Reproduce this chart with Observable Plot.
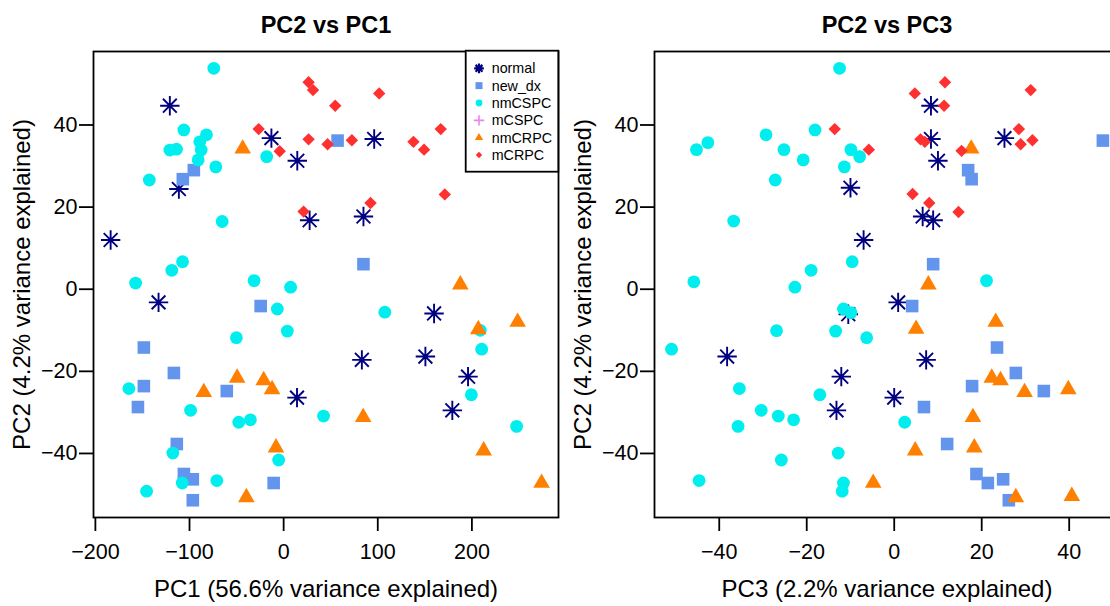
<!DOCTYPE html>
<html><head><meta charset="utf-8">
<script src="https://cdn.jsdelivr.net/npm/d3@7"></script>
<script src="https://cdn.jsdelivr.net/npm/@observablehq/plot@0.6"></script>
<style>
html,body{margin:0;padding:0;background:#fff;overflow:hidden;}
#wrap{position:relative;width:1110px;height:606px;overflow:hidden;font-family:"Liberation Sans",Arial,sans-serif;}
#left,#right,#legend{position:absolute;top:0;width:561px;height:606px;}
#left{left:0}
#right{left:561px}
#legend{left:0;pointer-events:none}
#wrap svg{max-width:none !important;}
</style></head><body>
<div id="wrap"><div id="left"></div><div id="right"></div><div id="legend"></div></div>
<script>
// ---- data ----
const groups = ["normal","new_dx","nmCSPC","mCSPC","nmCRPC","mCRPC"];
const colors = ["#000080","#6495ED","#00EEEE","#EE82EE","#FF7F00","#FF3030"];
const pc1Ticks = [-200,-100,0,100,200];
const pc3Ticks = [-40,-20,0,20,40];
const pc2Ticks = [-40,-20,0,20,40];

// [PC1, PC2]
const normal_PC1 = [[-120.9,44.7],[-111.3,24.4],[-13.0,36.8],[14.5,31.3],[27.6,16.8],[-183.8,12.0],[96.2,36.6],[84.8,17.7],[-132.9,-3.2],[14.2,-26.4],[159.8,-5.9],[83.1,-17.2],[150.6,-16.4],[195.9,-21.3],[179.2,-29.5]];
const new_dx_PC1 = [[-95.4,29.0],[-107.1,26.8],[57.3,36.2],[84.8,6.1],[-24.4,-4.1],[-148.5,-14.2],[-116.6,-20.4],[-148.5,-23.6],[-154.8,-28.7],[-60.4,-24.8],[-113.5,-37.7],[-106.0,-45.0],[-96.5,-46.3],[-10.6,-47.2],[-96.5,-51.4]];
const nmCSPC_PC1 = [[-74.2,53.8],[-106.0,38.8],[-82.0,37.6],[-89.1,35.9],[-120.9,33.9],[-113.8,34.1],[-87.6,33.9],[-90.8,31.5],[-72.1,29.8],[-142.7,26.6],[-18.0,32.3],[-65.3,16.5],[-107.4,6.7],[-118.8,4.6],[-157.3,1.5],[-31.4,2.1],[7.4,0.5],[-6.7,-4.8],[3.9,-10.2],[-50.2,-11.8],[-164.4,-24.2],[-98.9,-29.5],[-47.7,-32.4],[-35.3,-31.8],[42.4,-30.9],[-117.7,-39.9],[-5.3,-41.6],[-107.7,-47.2],[-71.0,-46.6],[-145.6,-49.2],[107.5,-5.6],[208.9,-10.0],[210.4,-14.6],[199.4,-25.7],[247.5,-33.4]];
const mCSPC_PC1 = [];
const nmCRPC_PC1 = [[-43.5,34.2],[-84.8,-25.1],[-49.4,-21.6],[-21.2,-22.2],[-12.3,-24.4],[-8.1,-38.6],[-39.6,-50.7],[187.7,1.1],[248.6,-8.0],[206.8,-9.8],[84.5,-31.2],[212.5,-39.3],[274.0,-47.2]];
const mCRPC_PC1 = [[26.5,50.4],[31.2,48.5],[-26.5,39.0],[-4.2,33.6],[26.5,36.5],[46.7,35.3],[21.2,18.9],[54.8,44.7],[101.5,47.7],[72.5,36.3],[137.9,35.9],[149.2,34.0],[166.9,39.0],[171.2,23.1],[92.3,21.0]];

// [PC3, PC2]
const normal_PC3 = [[-10.0,24.7],[-7.0,12.0],[8.4,44.7],[25.2,36.8],[8.4,36.6],[10.0,31.3],[6.5,17.7],[8.9,16.8],[-10.5,-6.1],[-38.2,-16.4],[-12.1,-21.3],[-13.2,-29.5],[0.9,-3.2],[7.3,-17.2],[0.0,-26.4]];
const new_dx_PC3 = [[16.9,29.0],[17.7,26.8],[47.7,36.2],[8.9,6.1],[4.1,-4.1],[23.5,-14.2],[27.8,-20.4],[17.8,-23.6],[34.2,-24.8],[6.8,-28.7],[12.1,-37.7],[18.8,-45.0],[21.4,-47.2],[24.9,-46.3],[26.2,-51.4]];
const nmCSPC_PC3 = [[-12.5,53.8],[-18.1,38.8],[-29.3,37.6],[-42.6,35.7],[-45.2,34.0],[-25.2,34.0],[-9.9,34.0],[-7.9,32.3],[-20.8,31.5],[-11.4,29.8],[-27.2,26.6],[-36.7,16.6],[-9.6,6.7],[-19.0,4.6],[-45.8,1.8],[-22.7,0.5],[-11.6,-4.8],[-9.9,-5.7],[-26.9,-10.1],[-13.4,-10.2],[-6.3,-11.8],[-50.9,-14.6],[-35.4,-24.2],[-17.0,-25.7],[-30.4,-29.5],[-26.5,-30.9],[-23.0,-31.8],[-35.7,-33.4],[-12.8,-39.9],[-25.8,-41.6],[-44.6,-46.6],[-11.6,-47.2],[-11.9,-49.2],[21.1,2.1],[2.4,-32.4]];
const mCSPC_PC3 = [];
const nmCRPC_PC3 = [[17.6,34.2],[7.8,1.1],[23.2,-8.0],[5.0,-9.7],[22.3,-21.6],[24.3,-22.2],[29.8,-25.1],[39.8,-24.4],[18.0,-31.2],[4.8,-39.3],[18.3,-38.6],[-4.8,-47.2],[27.8,-50.7],[40.6,-50.4]];
const mCRPC_PC3 = [[11.6,50.4],[31.2,48.5],[4.7,47.7],[11.4,44.7],[-13.6,39.0],[28.5,39.0],[28.9,35.3],[31.6,36.3],[-5.8,34.0],[6.0,36.5],[7.0,35.9],[15.4,33.7],[4.2,23.2],[8.0,21.0],[14.7,18.8]];

// ---- R-like symbols ----
function mkSymbols(k) {
  return {
    asterisk: {draw(c){const a=9.7*k,b=6.9*k;c.moveTo(-a,0);c.lineTo(a,0);c.moveTo(0,-a);c.lineTo(0,a);c.moveTo(-b,-b);c.lineTo(b,b);c.moveTo(-b,b);c.lineTo(b,-b);}},
    square: {draw(c){const h=6.3*k;c.moveTo(-h,-h);c.lineTo(h,-h);c.lineTo(h,h);c.lineTo(-h,h);c.closePath();}},
    circle: {draw(c){const r=6.4*k;c.moveTo(r,0);c.arc(0,0,r,0,2*Math.PI);}},
    plus: {draw(c){const a=9*k;c.moveTo(-a,0);c.lineTo(a,0);c.moveTo(0,-a);c.lineTo(0,a);}},
    triangle: {draw(c){const R=9.6*k,w=R*Math.sqrt(3)/2;c.moveTo(0,-R);c.lineTo(w,R/2);c.lineTo(-w,R/2);c.closePath();}},
    diamond: {draw(c){const h=6.2*k;c.moveTo(0,-h);c.lineTo(h,0);c.lineTo(0,h);c.lineTo(-h,0);c.closePath();}}
  };
}
const S = mkSymbols(1);
const symOf = [S.asterisk, S.square, S.circle, S.plus, S.triangle, S.diamond];
const strokeSym = [true,false,false,true,false,false];

const minus = d => d < 0 ? "\u2212" + Math.abs(d) : String(d);
const FONT = "Liberation Sans, Arial, sans-serif";

function panel(sets, xDomain, xTicks, title, xLabel) {
  const marks = [];
  sets.forEach((arr, i) => {
    if (!arr.length) return;
    marks.push(Plot.dot(arr, {
      x: d => d[0], y: d => d[1], symbol: symOf[i], r: 6,
      fill: strokeSym[i] ? "none" : colors[i],
      stroke: strokeSym[i] ? colors[i] : "none",
      strokeWidth: strokeSym[i] ? 1.9 : 0
    }));
  });
  return Plot.plot({
    width: 561, height: 606,
    marginLeft: 93, marginRight: 3, marginTop: 51, marginBottom: 89,
    style: {fontFamily: FONT, color: "black", background: "transparent", overflow: "visible", maxWidth: "none"},
    x: {domain: xDomain},
    y: {domain: [-55.6, 57.9]},
    marks: [
      ...marks,
      Plot.frame({stroke: "black", strokeWidth: 1.8}),
      Plot.axisX({ticks: xTicks, tickSize: 14, tickPadding: 12, fontSize: 21.5, tickFormat: minus, label: null, strokeWidth: 1.8}),
      Plot.axisY({ticks: pc2Ticks, tickSize: 14, tickPadding: 2, fontSize: 21.5, tickFormat: minus, label: null, strokeWidth: 1.8}),
      Plot.text([title], {text: d => d, frameAnchor: "top", dy: -26, lineAnchor: "middle", textAnchor: "middle", fontSize: 23.5, fontWeight: "bold", fill: "black"}),
      Plot.text([xLabel], {text: d => d, frameAnchor: "bottom", dy: 72, lineAnchor: "middle", textAnchor: "middle", fontSize: 24, fill: "black"}),
      Plot.text(["PC2 (4.2% variance explained)"], {text: d => d, frameAnchor: "left", dx: -71, rotate: -90, lineAnchor: "middle", textAnchor: "middle", fontSize: 24, fill: "black"})
    ]
  });
}

document.getElementById("left").appendChild(panel(
  [normal_PC1, new_dx_PC1, nmCSPC_PC1, mCSPC_PC1, nmCRPC_PC1, mCRPC_PC1],
  [-202, 292], pc1Ticks, "PC2 vs PC1", "PC1 (56.6% variance explained)"));
document.getElementById("right").appendChild(panel(
  [normal_PC3, new_dx_PC3, nmCSPC_PC3, mCSPC_PC3, nmCRPC_PC3, mCRPC_PC3],
  [-54.8, 51.5], pc3Ticks, "PC2 vs PC3", "PC3 (2.2% variance explained)"));

// ---- legend (HTML overlay, top-right of left panel) ----
const LS = mkSymbols(0.5);
const legSym = [LS.asterisk, {draw(c){const h=3.5;c.rect(-h,-h,2*h,2*h);}}, {draw(c){c.moveTo(3.4,0);c.arc(0,0,3.4,0,2*Math.PI);}}, {draw(c){const a=5.2;c.moveTo(-a,0);c.lineTo(a,0);c.moveTo(0,-a);c.lineTo(0,a);}}, LS.triangle, {draw(c){const h=3.2;c.moveTo(0,-h);c.lineTo(h,0);c.lineTo(0,h);c.lineTo(-h,0);c.closePath();}}];
const lsvg = d3.select("#legend").append("svg").attr("width", 561).attr("height", 200)
  .style("position","absolute").style("left","0px").style("top","0px");
lsvg.append("rect").attr("x", 465.7).attr("y", 50.7).attr("width", 92.6).attr("height", 121)
  .attr("fill", "white").attr("stroke", "black").attr("stroke-width", 1.8);
groups.forEach((g, i) => {
  const cy = 68.3 + i * 17.35;
  const p = d3.path(); legSym[i].draw(p);
  lsvg.append("path").attr("d", p.toString()).attr("transform", `translate(479,${cy})`)
    .attr("fill", strokeSym[i] ? "none" : colors[i])
    .attr("stroke", strokeSym[i] ? colors[i] : "none")
    .attr("stroke-width", strokeSym[i] ? (i === 0 ? 2.2 : 1.6) : 0);
  lsvg.append("text").attr("x", 491.7).attr("y", cy + 5).attr("font-size", 14.3)
    .attr("font-family", FONT).text(g);
});
</script>
</body></html>
